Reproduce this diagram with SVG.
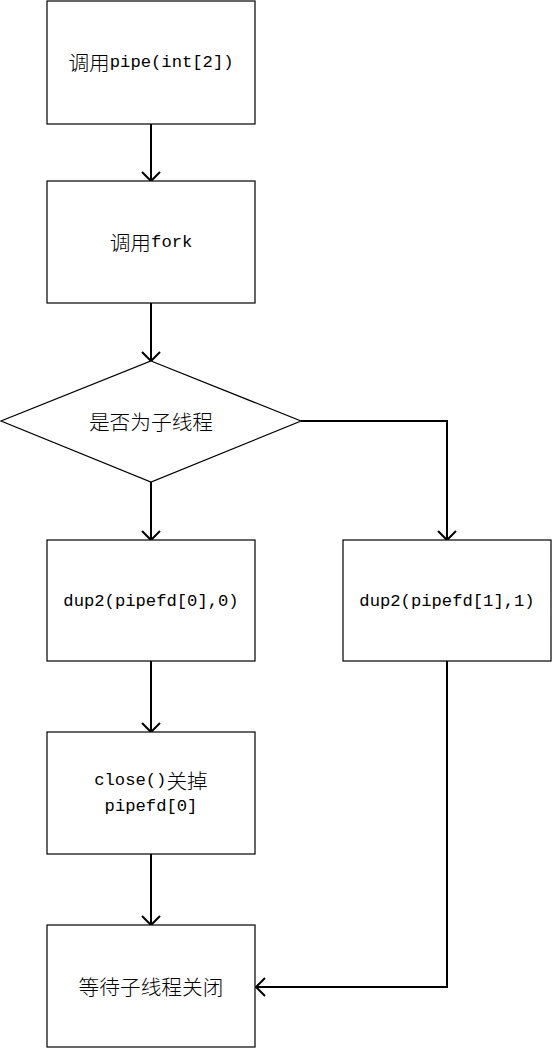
<svg xmlns="http://www.w3.org/2000/svg" width="552" height="1049" viewBox="0 0 552 1049">
<style>
.n{fill:#fff;stroke:#000;stroke-width:1.2}
.t{font-family:"Liberation Mono",monospace;font-size:17.2px;fill:#000;text-anchor:middle;dominant-baseline:central}
.k{font-family:"Noto Sans CJK SC",sans-serif;font-size:20.7px;font-weight:300}
.c{fill:none;stroke:#000;stroke-width:2}
</style>
<defs>
<marker id="a" viewBox="0 0 20 20" refX="10" refY="10" markerWidth="20" markerHeight="20" markerUnits="userSpaceOnUse" orient="auto">
<polyline points="1,1 10,10 1,19" fill="none" stroke="#000" stroke-width="2"/>
</marker>
</defs>
<rect width="552" height="1049" fill="#fff"/>
<g id="connectors">
<line class="c" x1="151" y1="124" x2="151" y2="181" marker-end="url(#a)"/>
<line class="c" x1="151" y1="303" x2="151" y2="361" marker-end="url(#a)"/>
<line class="c" x1="151" y1="482" x2="151" y2="540" marker-end="url(#a)"/>
<polyline class="c" points="301,421 447,421 447,540" marker-end="url(#a)"/>
<line class="c" x1="151" y1="661" x2="151" y2="732" marker-end="url(#a)"/>
<line class="c" x1="151" y1="854" x2="151" y2="925" marker-end="url(#a)"/>
<polyline class="c" points="447,661 447,987 256,987" marker-end="url(#a)"/>
</g>
<g id="n1"><rect class="n" x="47" y="1" width="208" height="123"/><text class="t" x="151" y="62"><tspan class="k">调用</tspan>pipe(int[2])</text></g>
<g id="n2"><rect class="n" x="47" y="181" width="208" height="122"/><text class="t" x="151" y="242"><tspan class="k">调用</tspan>fork</text></g>
<g id="n3"><polygon class="n" points="151,361 301,421 151,482 1,421"/><text class="t k" x="151" y="421">是否为子线程</text></g>
<g id="n4"><rect class="n" x="47" y="540" width="208" height="121"/><text class="t" x="151" y="601">dup2(pipefd[0],0)</text></g>
<g id="n5"><rect class="n" x="343" y="540" width="208" height="121"/><text class="t" x="447" y="601">dup2(pipefd[1],1)</text></g>
<g id="n6"><rect class="n" x="47" y="732" width="208" height="122"/><text class="t" x="151" y="780">close()<tspan class="k">关掉</tspan></text><text class="t" x="151" y="806">pipefd[0]</text></g>
<g id="n7"><rect class="n" x="47" y="925" width="208" height="122"/><text class="t k" x="151" y="986">等待子线程关闭</text></g>
</svg>
